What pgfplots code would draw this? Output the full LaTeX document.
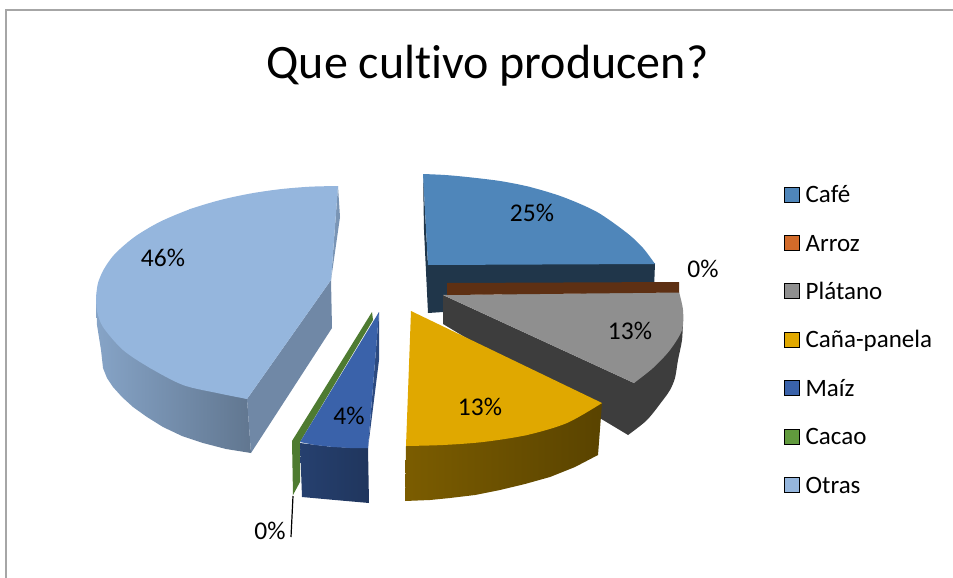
\documentclass[border=0pt]{standalone}
\usepackage{fontspec}
\setmainfont{Carlito}[Ligatures=NoCommon]
\usepackage{pgfplots}
\pgfplotsset{compat=1.18}
\definecolor{cafe}{HTML}{4F86BA}
\definecolor{arroz}{HTML}{D26B2A}
\definecolor{platano}{HTML}{8F8F8F}
\definecolor{cana}{HTML}{E0A800}
\definecolor{maiz}{HTML}{3A62AA}
\definecolor{cacao}{HTML}{619A3D}
\definecolor{otras}{HTML}{95B6DD}
\begin{document}
\begin{tikzpicture}
\begin{axis}[
  width=953pt,height=578pt,scale only axis,
  xmin=0,xmax=953,ymin=0,ymax=578,y dir=reverse,
  hide axis,clip=false,
  cycle list={{mark=none}},
  legend style={at={(axis cs:778,180.5)},anchor=north west,draw=none,fill=none,
    font=\fontsize{25}{25}\selectfont,row sep=31.4pt,column sep=6pt,inner xsep=6pt,inner ysep=5pt,
    nodes={inner sep=0pt,text depth=0pt,text height=17pt}},
  legend cell align=left,
  legend image code/.code={\fill[#1] (0pt,-7.5pt) rectangle (15pt,7.5pt);},
  every axis plot/.append style={forget plot},
]
% frame
\addplot[draw=black!35,line width=1.5pt] coordinates {(6,578) (6,10) (953,10)};
% Otras side
\addplot[draw=none,left color=otras!90!black,right color=otras!65!black] coordinates {
 (96,297) (97,325) (101,350) (103,368) (107,378) (113,387) (122,397) (133,407) (147,417) (163,427) (182,436) (203,443) (226,449) (251,453)
 (247,398) (217,385) (150,360) (110,325) (98,305)} --cycle;
\addplot[draw=none,fill=otras!75!black] coordinates {(247,399) (331,280) (332,328) (251,453)} --cycle;
\addplot[draw=none,fill=otras!82!black] coordinates {(338,186) (340,217) (331,280)} --cycle;
% Otras top
\addplot[draw=none,fill=otras] coordinates {(338,186) (190,209) (96,297) (150,368) (247,399) (331,280)} --cycle;
\addplot[draw=none,fill=otras,smooth] coordinates {(338,186) (310,186.7) (280,189.2) (250,193.6) (220,200.1) (190,209.2) (160,221.8) (135,236.6) (115,253.8) (104,269) (98,283) (96,297)} --cycle;
\addplot[draw=none,fill=otras,smooth] coordinates {(96,297) (97,311) (103,327) (123,350) (150,368) (183,385) (217,393) (247,399)} --cycle;
% Cafe
\addplot[draw=none,fill=cafe!40!black] coordinates {(423,174) (428,265) (428,313) (424,230)} --cycle;
\addplot[draw=none,fill=cafe!40!black] coordinates {(428,264) (655,263) (654,290) (443,295) (443,312) (428,313)} --cycle;
\addplot[draw=none,fill=cafe] coordinates {(423,174) (530,187) (655,264) (428,265)} --cycle;
\addplot[draw=none,fill=cafe,smooth] coordinates {(423,174) (445,175) (467,177) (500,181) (530,187) (563,197) (597,212) (627,233) (643,248) (655,264)} --cycle;
% Platano
\addplot[draw=none,fill=black!76] coordinates {(443,295) (634,383) (683,320) (670,385) (628,435) (443,324)} --cycle;
\addplot[draw=none,fill=black!76,smooth] coordinates {(683,320) (682,340) (678,360) (675,378) (670,390) (663,400) (647,420) (628,435)} --cycle;
\addplot[draw=none,fill=platano] coordinates {(443,295) (679,292) (682,330) (634,383)} --cycle;
\addplot[draw=none,fill=platano,smooth] coordinates {(679,292) (683,310) (682,330) (670,350) (653,368) (634,383)} --cycle;
% Arroz
\addplot[draw=none,fill=arroz!45!black] coordinates {(447,283) (679,282) (679,292.5) (447,295)} --cycle;
% Cana
\addplot[draw=none,left color=cana!55!black,right color=cana!40!black] coordinates {
 (406,446) (443,440) (483,437) (527,430) (567,418) (602,403) (598,455) (575,467) (550,477) (525,484) (500,490) (475,495) (450,498) (430,500) (405,501)} --cycle;
\addplot[draw=none,fill=cana] coordinates {(411,311) (602,403) (527,435) (406,446)} --cycle;
\addplot[draw=none,fill=cana,smooth] coordinates {(602,403) (567,423) (527,435) (483,442) (443,445) (406,446)} --cycle;
% Cacao
\addplot[draw=none,fill=cacao!80!black] coordinates {(372,312) (292,441) (293,495) (300,482) (300,442) (373,320)} --cycle;
% Maiz
\addplot[draw=none,left color=maiz!65!black,right color=maiz!55!black] coordinates {(300,443) (333,447) (368,448) (369,503) (335,500) (302,497)} --cycle;
\addplot[draw=none,fill=maiz!75!black] coordinates {(379,312) (379,360) (368,448)} --cycle;
\addplot[draw=none,fill=maiz] coordinates {(379,312) (300,442) (315,445) (333,447) (350,448) (368,448)} --cycle;
% leader
\addplot[draw=black,line width=1.2pt] coordinates {(293,496) (291,537)};
% labels
\node[font=\fontsize{48}{48}\selectfont] at (axis cs:487.5,66) {Que cultivo producen?};
\foreach \x/\y/\t in {532/213/25\%,630/331/13\%,480/407/13\%,349/416/4\%,163/258/46\%,703/269/0\%,270/531/0\%}{
  \edef\temp{\noexpand\node[font=\noexpand\fontsize{25.5}{25.5}\noexpand\selectfont] at (axis cs:\x,\y) {\t};}
  \temp
}
% legend
\addlegendimage{fill=cafe}\addlegendentry{Café}
\addlegendimage{fill=arroz}\addlegendentry{Arroz}
\addlegendimage{fill=platano}\addlegendentry{Plátano}
\addlegendimage{fill=cana}\addlegendentry{Caña-panela}
\addlegendimage{fill=maiz}\addlegendentry{Maíz}
\addlegendimage{fill=cacao}\addlegendentry{Cacao}
\addlegendimage{fill=otras}\addlegendentry{Otras}
\end{axis}
\pgfresetboundingbox
\useasboundingbox (0,0) rectangle (953pt,578pt);
\end{tikzpicture}
\end{document}
